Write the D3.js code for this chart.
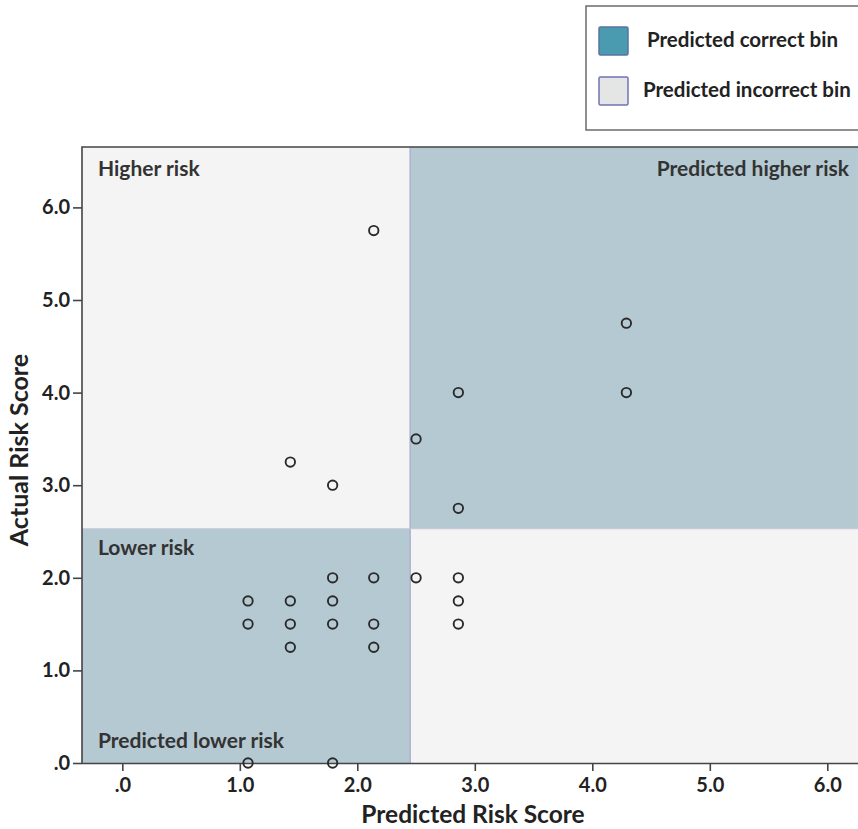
<!DOCTYPE html>
<html><head><meta charset="utf-8">
<script src="https://cdn.jsdelivr.net/npm/d3@7"></script>
<style>
html,body{margin:0;padding:0;background:#fff;}
svg{display:block;font-family:Lato,"Open Sans",sans-serif;}
</style></head>
<body><svg id="c" width="858" height="829"></svg>
<script>
// Data
const predicted = [2.14, 4.29, 4.29, 2.86, 2.5, 1.43, 1.79, 2.86,
  1.79, 2.14, 2.5, 2.86,
  1.07, 1.43, 1.79, 2.86,
  1.07, 1.43, 1.79, 2.14, 2.86,
  1.43, 2.14,
  1.07, 1.79];
const actual = [5.75, 4.75, 4.0, 4.0, 3.5, 3.25, 3.0, 2.75,
  2.0, 2.0, 2.0, 2.0,
  1.75, 1.75, 1.75, 1.75,
  1.5, 1.5, 1.5, 1.5, 1.5,
  1.25, 1.25,
  0, 0];
const xTicks = [0, 1, 2, 3, 4, 5, 6];
const yTicks = [0, 1, 2, 3, 4, 5, 6];
const tickLabel = v => v === 0 ? ".0" : v.toFixed(1);
const splitPredicted = 2.45;
const splitActual = 2.53;
const regionLabels = ["Higher risk", "Predicted higher risk", "Lower risk", "Predicted lower risk"];
const legendLabels = ["Predicted correct bin", "Predicted incorrect bin"];
const axisTitles = ["Predicted Risk Score", "Actual Risk Score"];

(function () {
const svg = d3.select("#c");
const x = d3.scaleLinear().domain([0, 6]).range([122.3, 827.3]);
const y = d3.scaleLinear().domain([0, 6]).range([763, 207.4]);
const pL = 82, pR = 870, pT = 147, pB = 763;
const xMin = x.invert(pL), xMax = x.invert(pR), yMax = y.invert(pT);

const lightCol = "#f4f4f4", blueCol = "#b5c9d2";

svg.append("rect").attr("x", pL).attr("y", pT).attr("width", pR - pL).attr("height", pB - pT).attr("fill", lightCol);
const bins = [
  {x0: xMin, x1: splitPredicted, y0: 0, y1: splitActual},
  {x0: splitPredicted, x1: xMax, y0: splitActual, y1: yMax}
];
svg.selectAll("rect.bin").data(bins).join("rect").attr("class", "bin")
  .attr("x", d => x(d.x0)).attr("y", d => y(d.y1))
  .attr("width", d => x(d.x1) - x(d.x0)).attr("height", d => y(d.y0) - y(d.y1))
  .attr("fill", blueCol);
svg.append("line").attr("x1", x(splitPredicted)).attr("x2", x(splitPredicted)).attr("y1", pT).attr("y2", pB)
  .attr("stroke", "#b0b0d0").attr("stroke-width", 1.5);
svg.append("line").attr("x1", pL).attr("x2", pR).attr("y1", y(splitActual)).attr("y2", y(splitActual))
  .attr("stroke", "#c6c6dc").attr("stroke-width", 1);

svg.append("path").attr("d", `M${pR},${pT}H${pL}V${pB}`).attr("fill", "none").attr("stroke", "#444").attr("stroke-width", 1.6);

const xAxis = d3.axisBottom(x).tickValues(xTicks).tickFormat(tickLabel).tickSize(8).tickPadding(7);
const gx = svg.append("g").attr("transform", `translate(0,${pB})`).call(xAxis);
gx.select(".domain").attr("d", `M${pL},0.5H${pR}`).attr("stroke", "#444").attr("stroke-width", 1.6);
gx.selectAll(".tick line").attr("stroke", "#444").attr("stroke-width", 1.6);
gx.selectAll(".tick text").attr("font-size", 20).attr("font-weight", "bold").attr("fill", "#222").attr("font-family", "Lato,sans-serif");

const yAxis = d3.axisLeft(y).tickValues(yTicks).tickFormat(tickLabel).tickSize(9).tickPadding(3);
const gy = svg.append("g").attr("transform", `translate(${pL},0)`).call(yAxis);
gy.select(".domain").remove();
gy.selectAll(".tick line").attr("stroke", "#444").attr("stroke-width", 1.6);
gy.selectAll(".tick text").attr("font-size", 20).attr("font-weight", "bold").attr("fill", "#222").attr("font-family", "Lato,sans-serif");

const lab = (t, xx, yy, anchor) => svg.append("text").text(t).attr("x", xx).attr("y", yy)
  .attr("text-anchor", anchor).attr("font-size", 21).attr("font-weight", "bold").attr("fill", "#333");
lab(regionLabels[0], 98, 176, "start");
lab(regionLabels[1], 849, 176, "end");
lab(regionLabels[2], 98, 555, "start");
lab(regionLabels[3], 98, 748, "start");

svg.selectAll("circle.pt").data(predicted.map((p, i) => [p, actual[i]])).join("circle").attr("class", "pt")
  .attr("cx", d => x(d[0])).attr("cy", d => y(d[1])).attr("r", 4.7)
  .attr("fill", "none").attr("stroke", "#2a2a2a").attr("stroke-width", 1.9);

svg.append("text").text(axisTitles[0]).attr("x", 473).attr("y", 823).attr("text-anchor", "middle")
  .attr("font-size", 24.5).attr("font-weight", "bold").attr("fill", "#222");
svg.append("text").text(axisTitles[1]).attr("transform", "translate(28,450) rotate(-90)").attr("text-anchor", "middle")
  .attr("font-size", 25).attr("font-weight", "bold").attr("fill", "#222");

svg.append("rect").attr("x", 586).attr("y", 6).attr("width", 300).attr("height", 124)
  .attr("fill", "#fff").attr("stroke", "#555").attr("stroke-width", 1.3);
const legendSw = [{fill: "#4a9ab0", stroke: "#5a74a0"}, {fill: "#e4e6e6", stroke: "#7272b4"}];
const lg = svg.selectAll("g.lg").data(legendLabels).join("g").attr("class", "lg")
  .attr("transform", (d, i) => `translate(599,${27 + i * 50})`);
lg.append("rect").attr("width", 29).attr("height", 28).attr("rx", 1.5)
  .attr("fill", (d, i) => legendSw[i].fill).attr("stroke", (d, i) => legendSw[i].stroke).attr("stroke-width", 1.5);
lg.append("text").text(d => d).attr("x", (d, i) => i === 0 ? 48 : 44).attr("y", 13).attr("dy", "0.35em")
  .attr("font-size", 20.5).attr("font-weight", "bold").attr("fill", "#222");
})();
</script></body></html>
